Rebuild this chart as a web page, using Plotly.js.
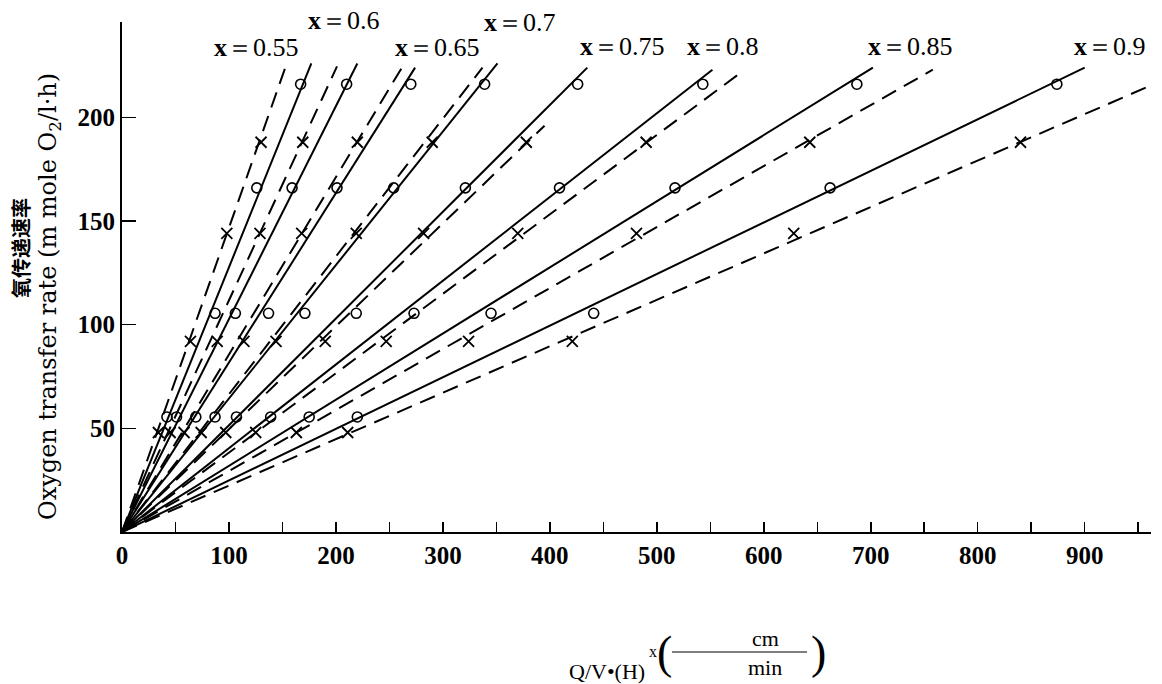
<!DOCTYPE html>
<html><head><meta charset="utf-8">
<script src="https://cdn.plot.ly/plotly-3.0.1.min.js"></script>
<style>html,body{margin:0;padding:0;background:#fff}#chart{width:1162px;height:684px}</style>
</head><body><div id="chart"></div>
<script>
// ---- data ----
const exponents = ['0.55','0.6','0.65','0.7','0.75','0.8','0.85','0.9'];
const circleY = [55.5, 105.5, 166, 216];
const crossY = [48, 92, 144, 188];
const circleX = [
  [42, 87, 126, 167],
  [51, 106, 159, 210],
  [69, 137, 201, 270],
  [87, 171, 254, 339],
  [107, 219, 321, 426],
  [139, 273, 409, 543],
  [175, 345, 517, 687],
  [220, 441, 662, 874]
];
const crossX = [
  [34, 64, 98, 130],
  [45, 89, 129, 169],
  [58, 114, 168, 220],
  [74, 144, 219, 290],
  [97, 190, 282, 378],
  [125, 247, 370, 490],
  [163, 324, 481, 643],
  [211, 421, 628, 840]
];
const solidEndX = [177, 220, 274, 351, 435, 552, 702, 900];
const solidEndY = [226, 226, 224, 226, 224, 223, 224, 224];
const dashEndX = [154, 201, 264, 337, 395, 577, 758, 960];
const dashEndY = [226, 224.6, 226, 224, 196, 221, 223, 215];
const xTickVals = [0, 100, 200, 300, 400, 500, 600, 700, 800, 900];
const yTickVals = [50, 100, 150, 200];

// ---- layout helpers ----
const L = 122, R = 1151, T = 22, B = 532;
const W = 1162, H = 684;
const px = v => (v - L) / (R - L);
const py = v => (B - v) / (B - T);
const serif = 'Liberation Serif, Times New Roman, serif';
const wideSerif = 'DejaVu Serif, serif';

const traces = [];
exponents.forEach((e, i) => {
  traces.push({x: [0, solidEndX[i]], y: [0, solidEndY[i]], mode: 'lines',
    line: {color: '#000', width: 2}, hoverinfo: 'skip'});
  traces.push({x: [0, dashEndX[i]], y: [0, dashEndY[i]], mode: 'lines',
    line: {color: '#000', width: 2, dash: '16px,9px'}, hoverinfo: 'skip'});
  traces.push({x: circleX[i], y: circleY, mode: 'markers',
    marker: {symbol: 'circle-open', size: 10, color: '#000', line: {width: 1.6, color: '#000'}}});
  traces.push({x: crossX[i], y: crossY, mode: 'markers',
    marker: {symbol: 'x-thin-open', size: 11, color: '#000', line: {width: 1.8, color: '#000'}}});
});

const labelPos = [[256,47],[344,20],[437,47],[520,22],[622,46],[723,46],[910,46],[1110,46]];
const annotations = exponents.map((e, i) => ({
  xref: 'paper', yref: 'paper', x: px(labelPos[i][0]), y: py(labelPos[i][1]),
  xanchor: 'center', yanchor: 'middle', showarrow: false,
  text: '<b>x</b>＝' + e, font: {family: serif, size: 26, color: '#000'}
}));

// y-axis titles
annotations.push({xref:'paper', yref:'paper', x: px(20), y: py(248), xanchor:'center', yanchor:'middle',
  showarrow:false, textangle:-90, text:'<b>氧传递速率</b>',
  font:{family:'Noto Sans CJK SC, sans-serif', size:20, color:'#000'}});
annotations.push({xref:'paper', yref:'paper', x: px(49), y: py(297), xanchor:'center', yanchor:'middle',
  showarrow:false, textangle:-90, text:'Oxygen transfer rate (m mole O<sub>2</sub>/l·h)',
  font:{family:wideSerif, size:24, color:'#000'}});

// x-axis title pieces
annotations.push({xref:'paper', yref:'paper', x: px(647), y: py(671), xanchor:'right', yanchor:'middle',
  showarrow:false, text:'Q/V•(H)', font:{family:serif, size:22, color:'#000'}});
annotations.push({xref:'paper', yref:'paper', x: px(653), y: py(651), xanchor:'center', yanchor:'middle',
  showarrow:false, text:'x', font:{family:serif, size:16, color:'#000'}});
annotations.push({xref:'paper', yref:'paper', x: px(664), y: py(652), xanchor:'center', yanchor:'middle',
  showarrow:false, text:'(', font:{family:serif, size:46, color:'#000'}});
annotations.push({xref:'paper', yref:'paper', x: px(765), y: py(638), xanchor:'center', yanchor:'middle',
  showarrow:false, text:'cm', font:{family:serif, size:22, color:'#000'}});
annotations.push({xref:'paper', yref:'paper', x: px(765), y: py(667), xanchor:'center', yanchor:'middle',
  showarrow:false, text:'min', font:{family:serif, size:22, color:'#000'}});
annotations.push({xref:'paper', yref:'paper', x: px(818), y: py(652), xanchor:'center', yanchor:'middle',
  showarrow:false, text:')', font:{family:serif, size:46, color:'#000'}});

const shapes = [{type:'line', xref:'paper', yref:'paper', x0: px(672), x1: px(807), y0: py(652), y1: py(652),
  line:{color:'#000', width:1}}];

const tickFont = {family: serif, size: 25, color: '#000', weight: 'bold'};
const layout = {
  width: W, height: H,
  margin: {l: L, r: W - R, t: T, b: H - B, pad: 0},
  paper_bgcolor: '#fff', plot_bgcolor: '#fff',
  font: {family: serif, color: '#000'},
  showlegend: false,
  xaxis: {range: [0, 962], showline: true, linecolor: '#000', linewidth: 2,
    showgrid: false, zeroline: false, ticks: 'inside', ticklen: 10, tickwidth: 1.5, tickcolor: '#000',
    tickvals: xTickVals, ticktext: xTickVals.map(String),
    minor: {tickvals: [50,150,250,350,450,550,650,750,850,950], ticks: 'inside', ticklen: 10, tickwidth: 1.5, tickcolor: '#000'},
    tickfont: tickFont, fixedrange: true},
  yaxis: {range: [0, 246], showline: true, linecolor: '#000', linewidth: 2,
    showgrid: false, zeroline: false, ticks: 'inside', ticklen: 14, tickwidth: 1.5, tickcolor: '#000',
    tickvals: yTickVals, ticktext: yTickVals.map(String),
    tickfont: tickFont, fixedrange: true},
  annotations: annotations,
  shapes: shapes
};

Plotly.newPlot('chart', traces, layout, {staticPlot: true, displayModeBar: false});
</script>
</body></html>
